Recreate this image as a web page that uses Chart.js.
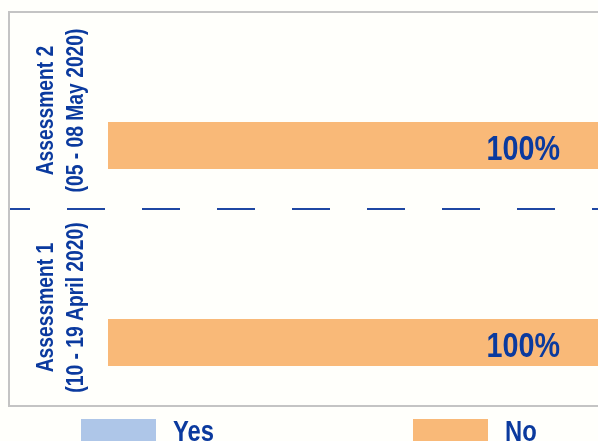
<!DOCTYPE html>
<html><head><meta charset="utf-8">
<script src="https://cdn.jsdelivr.net/npm/chart.js@4/dist/chart.umd.min.js"></script>
<style>html,body{margin:0;padding:0;background:#fffffb;overflow:hidden}</style>
</head><body>
<canvas id="c" width="598" height="441"></canvas>
<script>
// ---- data ----
const categories = [['Assessment 2', '(05 - 08 May 2020)'], ['Assessment 1', '(10 - 19 April 2020)']];
const seriesNames = ['Yes', 'No'];
const yesValues = [0, 0];
const noValues = [100, 100];
const xRange = [0, 100];

const TEXT = '#0b3a9e';
const FONT = '"Liberation Sans", Arial, sans-serif';
const NARROW = 0.82; // horizontal condensing to imitate a narrow face

function narrowText(ctx, text, x, y, align, rot) {
  ctx.save();
  ctx.translate(x, y);
  if (rot) ctx.rotate(rot);
  ctx.scale(NARROW, 1);
  ctx.textAlign = align;
  ctx.fillText(text, 0, 0);
  ctx.restore();
}

const framePlugin = {
  id: 'frame',
  beforeDraw(chart) {
    const {ctx, chartArea, width, height} = chart;
    const ys = chart.scales.y;
    ctx.save();
    ctx.fillStyle = '#fffffb';
    ctx.fillRect(0, 0, width, height);
    ctx.strokeStyle = '#c4c4c4';
    ctx.lineWidth = 2;
    ctx.beginPath();
    ctx.moveTo(width, chartArea.top);
    ctx.lineTo(ys.left + 1, chartArea.top);
    ctx.lineTo(ys.left + 1, chartArea.bottom);
    ctx.lineTo(width, chartArea.bottom);
    ctx.stroke();
    // dashed dividers between categories
    ctx.strokeStyle = '#1f47a3';
    ctx.lineWidth = 2;
    ctx.setLineDash([38, 37]);
    ctx.lineDashOffset = 18;
    for (let i = 1; i < categories.length; i++) {
      const y = Math.round((ys.getPixelForTick(i - 1) + ys.getPixelForTick(i)) / 2);
      ctx.beginPath();
      ctx.moveTo(ys.left + 2, y);
      ctx.lineTo(width, y);
      ctx.stroke();
    }
    ctx.restore();
  }
};

const catLabelPlugin = {
  id: 'catLabels',
  afterDraw(chart) {
    const {ctx} = chart;
    const ys = chart.scales.y;
    ctx.save();
    ctx.fillStyle = TEXT;
    ctx.font = 'bold 23.5px ' + FONT;
    ctx.textBaseline = 'middle';
    categories.forEach((lines, i) => {
      const cy = ys.getPixelForTick(i);
      lines.forEach((line, j) => {
        narrowText(ctx, line, ys.left + 39 + j * 30, cy, 'center', -Math.PI / 2);
      });
    });
    ctx.restore();
  }
};

const valueLabelPlugin = {
  id: 'valueLabels',
  afterDatasetsDraw(chart) {
    const {ctx} = chart;
    ctx.save();
    ctx.fillStyle = TEXT;
    ctx.font = 'bold 35px ' + FONT;
    ctx.textBaseline = 'alphabetic';
    chart.data.datasets.forEach((ds, di) => {
      const meta = chart.getDatasetMeta(di);
      meta.data.forEach((bar, i) => {
        const v = ds.data[i];
        if (!v) return;
        narrowText(ctx, v + '%', bar.x - 38, bar.y + 15, 'right');
      });
    });
    ctx.restore();
  }
};

const legendPlugin = {
  id: 'customLegend',
  afterDraw(chart) {
    const {ctx, chartArea} = chart;
    ctx.save();
    ctx.font = 'bold 29px ' + FONT;
    ctx.textBaseline = 'alphabetic';
    chart.data.datasets.forEach((ds, i) => {
      const x0 = chartArea.left - 27 + i * 332;
      const top = chartArea.bottom + 13;
      ctx.fillStyle = ds.backgroundColor;
      ctx.fillRect(x0, top, 75, 30);
      ctx.fillStyle = TEXT;
      narrowText(ctx, ds.label, x0 + 92, top + 22, 'left');
    });
    ctx.restore();
  }
};

new Chart(document.getElementById('c'), {
  type: 'bar',
  data: {
    labels: categories,
    datasets: [
      {label: seriesNames[0], data: yesValues, backgroundColor: '#aec6e8'},
      {label: seriesNames[1], data: noValues, backgroundColor: '#f9b978'}
    ]
  },
  options: {
    indexAxis: 'y',
    responsive: false,
    animation: false,
    devicePixelRatio: 1,
    categoryPercentage: 0.71,
    barPercentage: 0.67,
    layout: {padding: {left: 8, top: 12, right: 0, bottom: 35}},
    plugins: {legend: {display: false}, tooltip: {enabled: false}},
    scales: {
      x: {display: false, min: xRange[0], max: xRange[1]},
      y: {
        grid: {display: false},
        border: {display: false},
        ticks: {display: false},
        afterFit(scale) { scale.width = 100; }
      }
    }
  },
  plugins: [framePlugin, catLabelPlugin, valueLabelPlugin, legendPlugin]
});
</script>
</body></html>
